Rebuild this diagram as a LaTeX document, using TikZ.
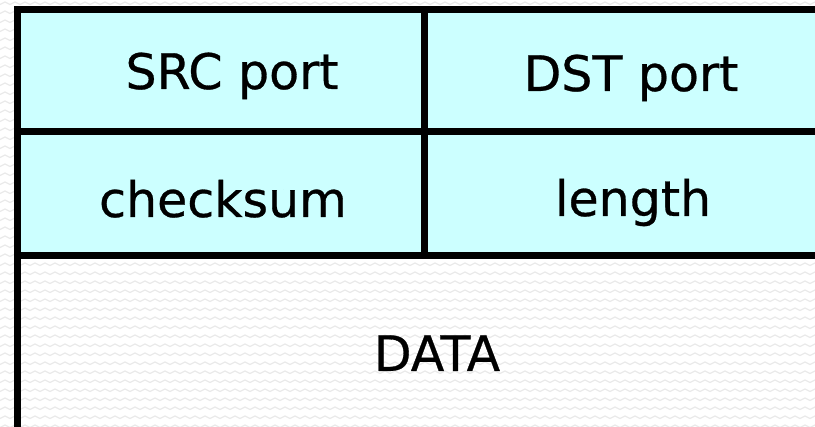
\documentclass[tikz,border=0pt]{standalone}
\usepackage{fontspec}
\setmainfont[FakeBold=0.6]{DejaVu Sans}
\definecolor{cellcyan}{RGB}{204,255,255}
\definecolor{zig}{RGB}{234,234,234}
\begin{document}
\begin{tikzpicture}[x=1pt,y=-1pt,
  grid/.style={line width=7pt,black},
  lbl/.style={font=\fontsize{49}{52}\selectfont,anchor=base,inner sep=0pt}]
\useasboundingbox (0,0) rectangle (815,427);
\clip (0,0) rectangle (815,427);
\fill[white] (0,0) rectangle (815,427);
% faint zigzag background texture
\foreach \j in {0,...,48}{
  \pgfmathsetmacro{\yy}{\j*9+2}
  \draw[zig,line width=1.2pt] (-5,\yy) \foreach \i in {0,...,82}{ -- ({\i*10}, \yy+2.5) -- ({\i*10+5}, \yy) };
}
% cells
\fill[cellcyan] (17,10) rectangle (830,255.5);
% grid lines
\draw[grid] (17,440) -- (17,10) -- (830,10);
\draw[grid] (17,132) -- (830,132);
\draw[grid] (17,255.5) -- (830,255.5);
\draw[grid] (424,10) -- (424,255.5);
% labels
\node[lbl] (src) at (232,89) {SRC port};
\node[lbl] (dst) at (631,91) {DST port};
\node[lbl] (chk) at (223,217) {checksum};
\node[lbl] (len) at (633,216) {length};
\node[lbl] (dat) at (437,371) {DATA};
\end{tikzpicture}
\end{document}
